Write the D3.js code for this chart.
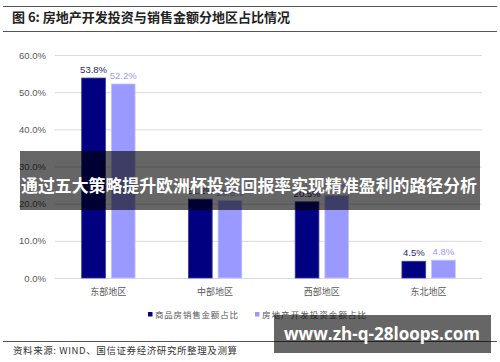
<!DOCTYPE html>
<html>
<head>
<meta charset="utf-8">
<script src="https://cdn.jsdelivr.net/npm/d3@7"></script>
<style>
  body { margin: 0; background: #fff; }
  svg { display: block; }
</style>
</head>
<body>
<div id="chart"></div>
<script>
const REGIONS = ["东部地区", "中部地区", "西部地区", "东北地区"];
const SERIES = ["商品房销售金额占比", "房地产开发投资金额占比"];
const SALES = [53.8, 21.2, 20.5, 4.5];
const INVEST = [52.2, 20.8, 22.2, 4.8];
const Y_TICKS = [0, 10, 20, 30, 40, 50, 60];
const COLORS = ["#000080", "#9999ff"];

const W = 500, H = 362;
const svg = d3.select("#chart").append("svg").attr("width", W).attr("height", H);
const CJK = "'Noto Sans CJK SC', sans-serif";
const LAT = "'Liberation Sans', Arial, sans-serif";

// ---------- Header ----------
svg.append("line").attr("x1", 3).attr("x2", 497).attr("y1", 6.5).attr("y2", 6.5)
  .attr("stroke", "#555").attr("stroke-width", 1.2);
svg.append("line").attr("x1", 3).attr("x2", 497).attr("y1", 31.5).attr("y2", 31.5)
  .attr("stroke", "#555").attr("stroke-width", 1.2);
svg.append("text").attr("x", 12).attr("y", 22)
  .attr("font-family", CJK).attr("font-size", 13).attr("font-weight", "bold").attr("fill", "#222")
  .attr("textLength", 278).attr("lengthAdjust", "spacing")
  .text("图 6: 房地产开发投资与销售金额分地区占比情况");

// ---------- Scales ----------
const x0 = d3.scaleBand().domain(REGIONS).range([55, 482]).paddingInner(0.5).paddingOuter(0.25);
const x1 = d3.scaleBand().domain(SERIES).range([0, x0.bandwidth()]).paddingInner(0.2);
const y = d3.scaleLinear().domain([0, 60]).range([278, 55]);

// Grid + y labels
const yAxis = svg.append("g").attr("transform", "translate(55,0)")
  .call(d3.axisLeft(y).tickValues(Y_TICKS).tickSize(-427).tickFormat((d) => d.toFixed(1) + "%"));
yAxis.select(".domain").remove();
yAxis.selectAll(".tick line").attr("stroke", "#d9d9d9").attr("stroke-width", 1);
yAxis.selectAll(".tick text").attr("x", -9).attr("fill", "#595959")
  .attr("font-family", LAT).attr("font-size", 9.5);

// Category labels
svg.append("g").selectAll("text").data(REGIONS).enter().append("text")
  .attr("x", (d) => x0(d) + x0.bandwidth() / 2)
  .attr("y", 295)
  .attr("text-anchor", "middle")
  .attr("font-family", CJK).attr("font-size", 9).attr("fill", "#595959")
  .text((d) => d);

// ---------- Bars ----------
const rows = REGIONS.map((r, i) => ({ region: r, vals: [SALES[i], INVEST[i]] }));
const groups = svg.append("g").selectAll("g").data(rows).enter().append("g")
  .attr("transform", (d) => `translate(${x0(d.region)},0)`);

groups.selectAll("rect")
  .data((d) => d.vals.map((v, j) => ({ s: SERIES[j], v, j })))
  .enter().append("rect")
  .attr("x", (d) => x1(d.s))
  .attr("y", (d) => y(d.v))
  .attr("width", x1.bandwidth())
  .attr("height", (d) => y(0) - y(d.v))
  .attr("fill", (d) => COLORS[d.j])
  .attr("stroke", (d) => (d.j === 0 ? "#3a3aa0" : "#c4c4ff"))
  .attr("stroke-width", 0.8);

groups.selectAll("text.val")
  .data((d) => d.vals.map((v, j) => ({ s: SERIES[j], v, j })))
  .enter().append("text")
  .attr("class", "val")
  .attr("x", (d) => x1(d.s) + x1.bandwidth() / 2)
  .attr("y", (d) => y(d.v) - 5)
  .attr("text-anchor", "middle")
  .attr("font-family", LAT).attr("font-size", 9.5)
  .attr("fill", (d) => (d.j === 0 ? "#1f1f7a" : "#9999ff"))
  .text((d) => d.v.toFixed(1) + "%");

// ---------- Legend ----------
const legX = [148, 255];
const legLen = [83, 104];
const leg = svg.append("g").selectAll("g").data(SERIES).enter().append("g")
  .attr("transform", (d, i) => `translate(${legX[i]},312)`);
leg.append("rect").attr("width", 4.5).attr("height", 4.5)
  .attr("fill", (d, i) => COLORS[i]);
leg.append("text").attr("x", 7).attr("y", 5.5)
  .attr("font-family", CJK).attr("font-size", 8.5).attr("fill", "#595959")
  .attr("textLength", (d, i) => legLen[i]).attr("lengthAdjust", "spacing")
  .text((d) => d);

// ---------- Footer ----------
svg.append("line").attr("x1", 3).attr("x2", 497).attr("y1", 341.5).attr("y2", 341.5)
  .attr("stroke", "#555").attr("stroke-width", 1.2);
svg.append("text").attr("x", 13).attr("y", 354)
  .attr("font-family", CJK).attr("font-size", 9.5).attr("fill", "#333")
  .attr("textLength", 224).attr("lengthAdjust", "spacing")
  .text("资料来源: WIND、国信证券经济研究所整理及测算");

// ---------- Overlays ----------
svg.append("rect").attr("x", 20).attr("y", 151).attr("width", 460).attr("height", 59)
  .attr("fill", "rgba(0,0,0,0.6)");
svg.append("text").attr("x", 21).attr("y", 187)
  .attr("dominant-baseline", "middle")
  .attr("font-family", CJK).attr("font-size", 17).attr("font-weight", "bold").attr("fill", "#fff")
  .attr("textLength", 456).attr("lengthAdjust", "spacingAndGlyphs")
  .text("通过五大策略提升欧洲杯投资回报率实现精准盈利的路径分析");

svg.append("rect").attr("x", 274).attr("y", 315).attr("width", 217).attr("height", 38)
  .attr("fill", "rgba(0,0,0,0.6)");
svg.append("text").attr("x", 284).attr("y", 335)
  .attr("dominant-baseline", "middle")
  .attr("font-family", "'Open Sans', sans-serif").attr("font-size", 18).attr("font-weight", "bold").attr("fill", "#fff")
  .attr("textLength", 196).attr("lengthAdjust", "spacingAndGlyphs")
  .text("www.zh-q-28loops.com");
</script>
</body>
</html>
